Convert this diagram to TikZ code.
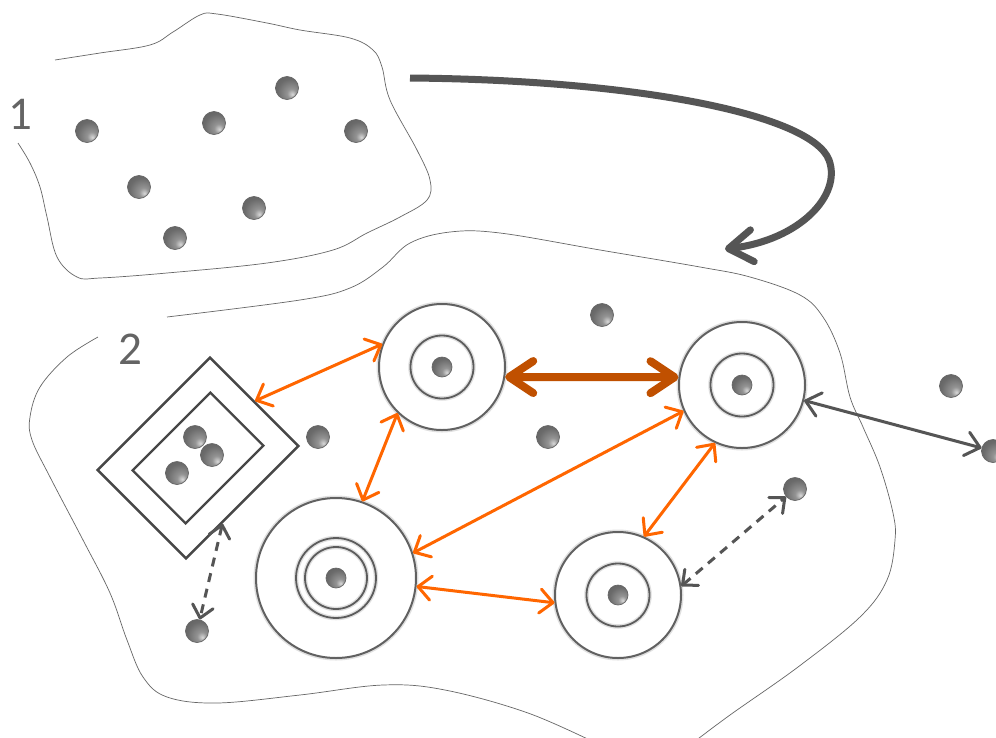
\documentclass[tikz,border=0pt]{standalone}
\usepackage{fontspec}
\setmainfont{Carlito}
\usetikzlibrary{arrows.meta,calc}
\definecolor{myorange}{RGB}{255,102,0}
\definecolor{darkorange}{RGB}{192,80,0}
\definecolor{arrgray}{RGB}{85,85,85}
\definecolor{labgray}{RGB}{100,100,100}
\pgfdeclareradialshading{dotshade}{\pgfpoint{12bp}{-14bp}}{color(0bp)=(white!85!black); color(10bp)=(black!42); color(28bp)=(black!58); color(45bp)=(black!64); color(70bp)=(black!66)}
\tikzset{
  blob/.style={draw=black!60, line width=0.7pt},
  dot/.style={circle, inner sep=0pt, minimum size=23pt, draw=black!60, line width=0.7pt, shade, shading=dotshade},
  cdot/.style={dot, minimum size=20pt},
  ring/.style={circle, inner sep=0pt, fill=white, draw=black!62, line width=2pt, preaction={draw=black!12, line width=5pt}},
  iring/.style={circle, inner sep=0pt, draw=black!64, line width=1.8pt, preaction={draw=black!12, line width=4.5pt}},
  sqbox/.style={draw=black!72, line width=2.4pt, rotate=-45, inner sep=0pt},
  lab/.style={text=labgray, inner sep=0pt, font=\fontsize{47}{50}\selectfont},
  ob/.style={line width=3pt, draw=myorange, arrows={Straight Barb[length=13pt,width=24pt,round]-Straight Barb[length=13pt,width=24pt,round]}},
  thickob/.style={line width=8pt, draw=darkorange, arrows={Straight Barb[length=24pt,width=32pt,round]-Straight Barb[length=24pt,width=32pt,round]}},
  gb/.style={line width=3pt, draw=arrgray, arrows={Straight Barb[length=14pt,width=24pt,round]-Straight Barb[length=14pt,width=24pt,round]}},
  db/.style={line width=3pt, draw=arrgray, dash pattern=on 9pt off 7pt, arrows={Straight Barb[length=12pt,width=21pt,round]-Straight Barb[length=12pt,width=21pt,round]}},
  bigarr/.style={line width=7pt, draw=arrgray, arrows={-Straight Barb[length=24pt,width=32pt,round]}}
}
\begin{document}
\begin{tikzpicture}[x=1pt,y=-1pt]
\clip (0,0) rectangle (996,737);
\fill[white] (0,0) rectangle (996,737);

% region outlines
\draw[blob] plot[smooth, tension=0.6] coordinates {(55,60) (100,53) (150,45) (173,32) (200,15) (217,14) (267,23) (300,30) (350,38) (373,50) (382,67) (390,100) (417,150) (430,180) (427,200) (400,217) (367,233) (333,250) (267,263) (167,273) (100,278) (77,277) (57,257) (47,217) (40,187) (30,163) (18,143)};
\draw[blob] plot[smooth, tension=0.6] coordinates {(167,317) (300,300) (350,288) (383,267) (410,243) (450,232) (500,233) (600,250) (700,267) (750,277) (800,295) (823,317) (840,353) (850,397) (863,427) (880,467) (893,513) (895,540) (887,580) (860,617) (798,667) (730,715) (690,745)};
\draw[blob] plot[smooth, tension=0.6] coordinates {(600,745) (528,713) (445,690) (383,685) (300,695) (217,703) (167,697) (143,677) (127,640) (110,593) (83,540) (50,477) (32,440) (30,417) (40,387) (67,357) (98,337)};

% labels
\node[lab] (l1) at (20,114) {1};
\node[lab] (l2) at (130,349) {2};

% region 1 dots
\node[dot] (p1) at (87,131) {};
\node[dot] (p2) at (214,123) {};
\node[dot] (p3) at (287,88) {};
\node[dot] (p4) at (356,131) {};
\node[dot] (p5) at (139,187) {};
\node[dot] (p6) at (254,208) {};
\node[dot] (p7) at (175,238) {};

% big arrow
\coordinate (bs) at (410,78);
\coordinate (be) at (725,249);
\draw[bigarr] (bs) .. controls (640,80) and (812,115) .. (829,160) .. controls (842,195) and (800,240) .. (be);

% region 2 free dots
\node[dot] (q1) at (602,315) {};
\node[dot] (q2) at (548,437) {};
\node[dot] (q3) at (318,437) {};
\node[dot] (q4) at (795,489) {};
\node[dot] (q5) at (197,631) {};
\node[dot] (o1) at (951,386) {};
\node[dot] (o2) at (993,451) {};

% diamond
\node[sqbox, minimum width=125pt, minimum height=159pt] (sq) at (198,458) {};
\node[sqbox, minimum width=75pt, minimum height=110pt] (sqi) at (198,458) {};
\node[dot] (s1) at (195,437) {};
\node[dot] (s2) at (212,455) {};
\node[dot] (s3) at (177,473) {};

% concentric circles
\node[ring, minimum size=126pt] (A) at (442,367) {};
\node[iring, minimum size=63pt] (Ai) at (A) {};
\node[cdot] (Ac) at (A) {};
\node[ring, minimum size=126pt] (B) at (742,385) {};
\node[iring, minimum size=63pt] (Bi) at (B) {};
\node[cdot] (Bc) at (B) {};
\node[ring, minimum size=126pt] (C) at (618,595) {};
\node[iring, minimum size=63pt] (Ci) at (C) {};
\node[cdot] (Cc) at (C) {};
\node[ring, minimum size=160pt] (D) at (336,578) {};
\node[iring, minimum size=80pt] (Di) at (D) {};
\node[iring, minimum size=62pt] (Dj) at (D) {};
\node[cdot] (Dc) at (D) {};

% connectors
\draw[ob] (A.159) -- (sq.north);
\draw[ob] (A.226) -- (D.71);
\draw[ob] (B.204) -- (D.18);
\draw[ob] (B.245) -- (C.66);
\draw[ob] (D.354) -- (C.187);
\draw[thickob] (A.-9) -- (B.173);
\draw[gb] (B.346) -- (o2);
\draw[db] (C.8) -- (q4);
\draw[db] ($(sq.east)!0.36!(sq.south east)$) -- (q5);
\end{tikzpicture}
\end{document}
